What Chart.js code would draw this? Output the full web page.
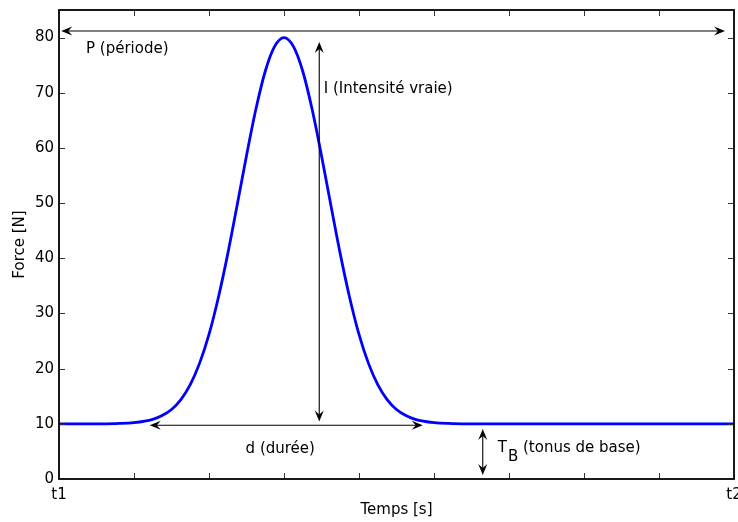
<!DOCTYPE html>
<html>
<head>
<meta charset="utf-8">
<script src="https://cdn.jsdelivr.net/npm/chart.js@4"></script>
<style>
  body { margin: 0; background: #fff; }
  #wrap { width: 738px; height: 522px; }
</style>
</head>
<body>
<div id="wrap"><canvas id="forceChart" width="738" height="522"></canvas></div>
<script>
// values (time in arbitrary units between t1 and t2)
const timeS = [0, 0.5, 0.75, 1, 1.25, 1.375, 1.5, 1.625, 1.75, 1.875,
  2, 2.125, 2.25, 2.375, 2.5, 2.625, 2.75, 2.875, 3,
  3.125, 3.25, 3.375, 3.5, 3.625, 3.75, 3.875,
  4, 4.125, 4.25, 4.375, 4.5, 4.625, 4.75, 5, 5.25, 5.5, 6, 7, 8, 9];
const forceN = [10, 10, 10.05, 10.2, 10.8, 11.5, 12.6, 14.4, 17.1, 21.0,
  26.2, 32.9, 40.8, 49.6, 58.6, 67.0, 73.9, 78.4, 80,
  78.4, 73.9, 67.0, 58.6, 49.6, 40.8, 32.9,
  26.2, 21.0, 17.1, 14.4, 12.6, 11.5, 10.8, 10.2, 10.05, 10, 10, 10, 10, 10];
const xTickLabels = { 0: 't1', 9: 't2' };
const yTicks = [0, 10, 20, 30, 40, 50, 60, 70, 80];

// annotations: arrows [x1, y1, x2, y2, doubleHeaded] and labels, in data units
const arrows = [
  [0.03, 81.2, 8.88, 81.2, true],   // P
  [3.47, 10.4, 3.47, 79.2, true],   // I
  [1.21, 9.75, 4.85, 9.75, true],   // d
  [5.65, 0.72, 5.65, 9.04, true]    // T_B
];
const labels = [
  { text: 'P (période)', x: 0.36, y: 77.9, align: 'left' },
  { text: 'I (Intensité vraie)', x: 3.53, y: 70.7, align: 'left' },
  { text: 'd (durée)', x: 2.95, y: 5.4, align: 'center' }
];

const FONT = '15px "DejaVu Sans"';

function arrowHead(ctx, tx, ty, dx, dy) {
  const L = 11, W = 4.5, N = 7;
  const px = -dy, py = dx;
  ctx.beginPath();
  ctx.moveTo(tx, ty);
  ctx.lineTo(tx - dx * L + px * W, ty - dy * L + py * W);
  ctx.lineTo(tx - dx * N, ty - dy * N);
  ctx.lineTo(tx - dx * L - px * W, ty - dy * L - py * W);
  ctx.closePath();
  ctx.fill();
}

const decor = {
  id: 'decor',
  afterDatasetsDraw(chart) {
    const { ctx, chartArea: a, scales: { x, y } } = chart;
    ctx.save();
    // inward tick marks on all four sides
    ctx.strokeStyle = '#333';
    ctx.lineWidth = 1;
    ctx.beginPath();
    for (let t = 1; t < 9; t++) {
      const px = Math.round(x.getPixelForValue(t)) + 0.5;
      ctx.moveTo(px, a.bottom); ctx.lineTo(px, a.bottom - 6);
      ctx.moveTo(px, a.top); ctx.lineTo(px, a.top + 6);
    }
    yTicks.slice(1).forEach(v => {
      const py = Math.round(y.getPixelForValue(v)) + 0.5;
      ctx.moveTo(a.left, py); ctx.lineTo(a.left + 6, py);
      ctx.moveTo(a.right, py); ctx.lineTo(a.right - 6, py);
    });
    ctx.stroke();
    // frame
    ctx.strokeStyle = '#000';
    ctx.lineWidth = 1.8;
    ctx.strokeRect(a.left, a.top, a.right - a.left, a.bottom - a.top);

    // arrows
    ctx.fillStyle = '#000';
    ctx.lineWidth = 1.1;
    arrows.forEach(([x1, y1, x2, y2, both]) => {
      const ax = x.getPixelForValue(x1), ay = y.getPixelForValue(y1);
      const bx = x.getPixelForValue(x2), by = y.getPixelForValue(y2);
      const len = Math.hypot(bx - ax, by - ay);
      const dx = (bx - ax) / len, dy = (by - ay) / len;
      ctx.beginPath();
      ctx.moveTo(ax + (both ? dx * 6 : 0), ay + (both ? dy * 6 : 0));
      ctx.lineTo(bx - dx * 6, by - dy * 6);
      ctx.stroke();
      arrowHead(ctx, bx, by, dx, dy);
      if (both) arrowHead(ctx, ax, ay, -dx, -dy);
    });

    // labels
    ctx.font = FONT;
    ctx.textBaseline = 'middle';
    labels.forEach(l => {
      ctx.textAlign = l.align;
      ctx.fillText(l.text, x.getPixelForValue(l.x), y.getPixelForValue(l.y));
    });
    // T_B (tonus de base) with subscript
    let tx = x.getPixelForValue(5.85);
    const ty = y.getPixelForValue(5.6);
    ctx.textAlign = 'left';
    ctx.fillText('T', tx, ty);
    tx += ctx.measureText('T').width + 1;
    ctx.fillText('B', tx, ty + 9);
    tx += ctx.measureText('B').width;
    ctx.fillText(' (tonus de base)', tx, ty);
    ctx.restore();
  }
};

const ctx = document.getElementById('forceChart').getContext('2d');
const chart = new Chart(ctx, {
  type: 'line',
  data: {
    datasets: [{
      data: timeS.map((t, i) => ({ x: t, y: forceN[i] })),
      borderColor: '#0000ff',
      borderWidth: 2.8,
      pointRadius: 0,
      cubicInterpolationMode: 'monotone',
      fill: false
    }]
  },
  options: {
    responsive: false,
    animation: false,
    layout: { padding: { top: 10, right: 4, left: 0, bottom: 0 } },
    plugins: { legend: { display: false }, tooltip: { enabled: false } },
    scales: {
      x: {
        type: 'linear',
        min: 0,
        max: 9,
        grid: { display: false, drawTicks: false },
        border: { display: false },
        ticks: {
          stepSize: 1,
          autoSkip: false,
          maxRotation: 0,
          padding: 7,
          color: '#000',
          font: { family: 'DejaVu Sans', size: 15 },
          callback: v => xTickLabels[v] || ''
        },
        title: {
          display: true,
          text: 'Temps [s]',
          color: '#000',
          font: { family: 'DejaVu Sans', size: 15 },
          padding: { top: 0, bottom: 3 }
        },
        afterFit(scale) {
          scale.height = 43;
          scale.paddingLeft = 0;
          scale.paddingRight = 0;
        }
      },
      y: {
        min: 0,
        max: 85,
        grid: { display: false, drawTicks: false },
        border: { display: false },
        ticks: {
          stepSize: 10,
          includeBounds: false,
          padding: 5,
          color: '#000',
          font: { family: 'DejaVu Sans', size: 15 }
        },
        title: {
          display: true,
          text: 'Force [N]',
          color: '#000',
          font: { family: 'DejaVu Sans', size: 15 },
          padding: { top: 11, bottom: 0 }
        },
        afterFit(scale) {
          scale.width = 59;
          scale.paddingTop = 0;
          scale.paddingBottom = 0;
        }
      }
    }
  },
  plugins: [decor]
});
</script>
</body>
</html>
